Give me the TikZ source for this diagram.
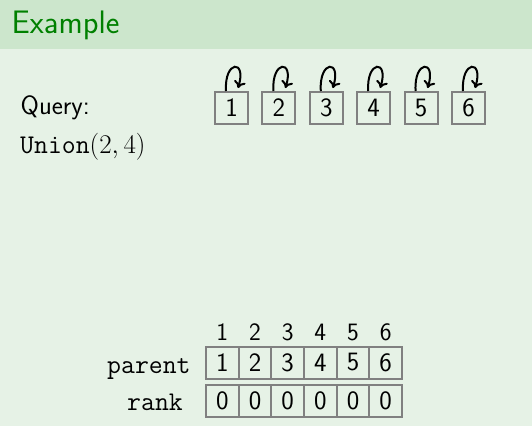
\RequirePackage{fix-cm}
\documentclass[tikz,border=0pt]{standalone}
\usetikzlibrary{arrows.meta}
\definecolor{hdr}{RGB}{204,230,204}
\definecolor{bdy}{RGB}{230,242,230}
\definecolor{ttl}{RGB}{0,128,0}
\definecolor{bx}{RGB}{128,128,128}
\tikzset{
  basefont/.style={font=\fontsize{26.5}{32}\selectfont\sffamily},
  txt/.style={basefont, inner sep=0pt, anchor=base west},
  ttxt/.style={inner sep=0pt, anchor=base west, font=\fontsize{27}{32}\selectfont\ttfamily},
  elem/.style={draw=bx, line width=2pt, minimum width=33pt, minimum height=32pt, inner sep=0pt, basefont},
  cell/.style={draw=bx, line width=2pt, minimum width=32.67pt, minimum height=32pt, inner sep=0pt, basefont},
  idx/.style={inner sep=0pt, anchor=base, font=\fontsize{25}{30}\selectfont\sffamily},
  selfloop/.style={-{To[length=7pt,width=12pt]}, line width=2pt, black},
}
\begin{document}
\begin{tikzpicture}[x=1pt,y=-1pt]
\useasboundingbox (0,0) rectangle (532,426);
\fill[bdy] (0,0) rectangle (532,426);
\fill[hdr] (0,0) rectangle (532,49);
\node[txt, font=\fontsize{32.5}{39}\selectfont\sffamily, text=ttl] (title) at (11.5,33) {Example};
\node[txt] (query) at (20.5,114) {Query:};
\node[ttxt] (union) at (20,153) {Union$(2,4)$};
\foreach \i in {1,...,6}{
  \node[elem] (b\i) at ({231.5+47.4*(\i-1)},108) {\i};
  \draw[selfloop] ([xshift=-5.5pt]b\i.north) .. controls ([xshift=-7.5pt,yshift=31pt]b\i.north) and ([xshift=15.5pt,yshift=32pt]b\i.north) .. ([xshift=6.5pt,yshift=3pt]b\i.north);
}
\foreach \i in {1,...,6}{
  \node[idx] (i\i) at ({206+32.67*(\i-0.5)},340) {\i};
  \node[cell] (p\i) at ({206+32.67*(\i-0.5)},362.5) {\i};
  \node[cell] (r\i) at ({206+32.67*(\i-0.5)},400.5) {0};
}
\node[ttxt] (lp) at (107,373) {parent};
\node[ttxt] (lr) at (127,410) {rank};
\end{tikzpicture}
\end{document}
